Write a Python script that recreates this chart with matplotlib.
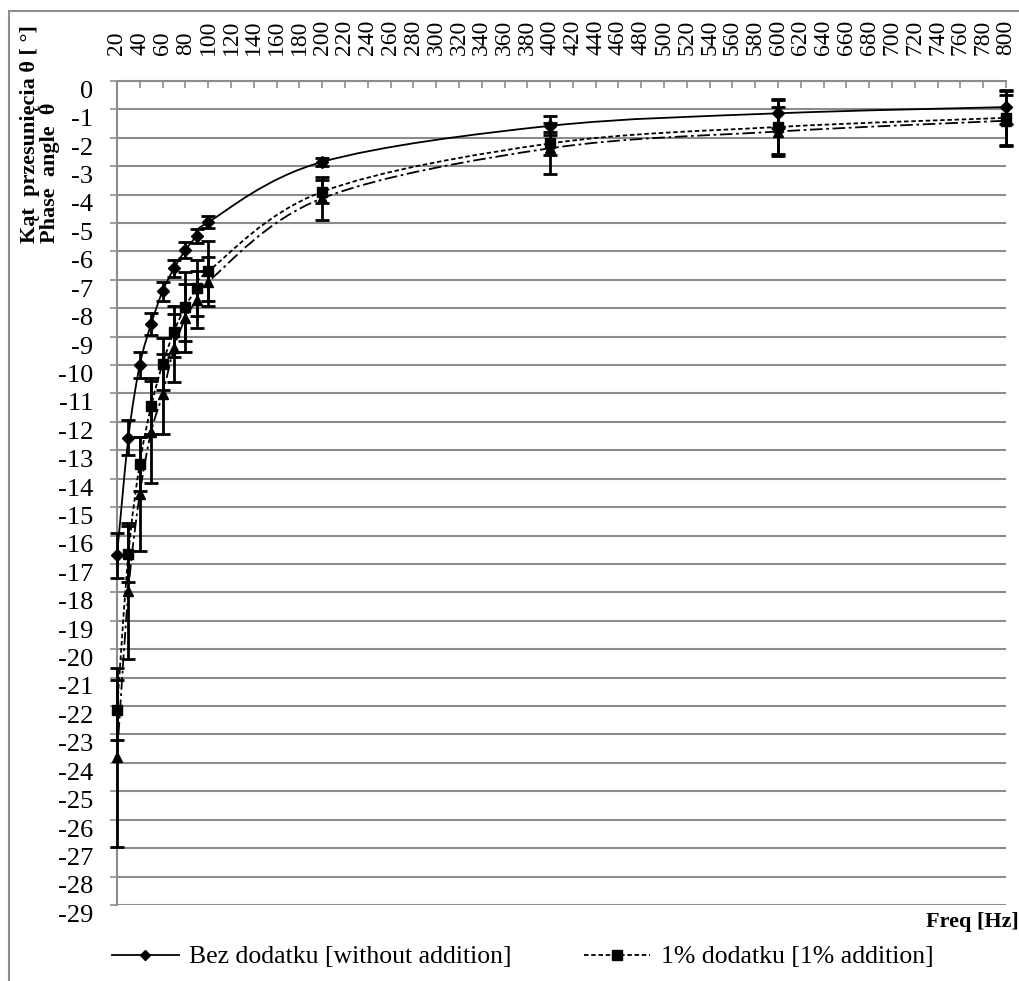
import matplotlib
matplotlib.use("Agg")
from matplotlib import pyplot as plt
from matplotlib.path import Path
from matplotlib.patches import PathPatch, Rectangle
from matplotlib.lines import Line2D
from matplotlib.transforms import ScaledTranslation

freq = [20, 30, 40, 50, 60, 70, 80, 90, 100, 200, 400, 600, 800]

bez = [-16.7, -12.55, -10.0, -8.55, -7.4, -6.6, -5.95, -5.45, -4.97, -2.85, -1.58, -1.14, -0.92]
bez_err = [0.8, 0.6, 0.45, 0.4, 0.33, 0.3, 0.27, 0.25, 0.22, 0.15, 0.33, 0.5, 0.6]

d1 = [-22.15, -16.65, -13.47, -11.44, -9.96, -8.82, -7.94, -7.29, -6.7, -3.9, -2.2, -1.62, -1.3]
d1_err = [1.05, 1.0, 0.95, 1.0, 0.9, 0.9, 1.2, 1.0, 1.05, 0.4, 0.4, 0.95, 0.95]

d2 = [-23.8, -17.95, -14.53, -12.35, -11.02, -9.4, -8.35, -7.7, -7.06, -4.13, -2.37, -1.78, -1.4]
d2_err = [3.15, 2.4, 2.0, 1.8, 1.4, 1.2, 1.2, 1.0, 0.85, 0.75, 0.9, 0.85, 0.9]

labels = ["Bez dodatku [without addition]", "1% dodatku [1% addition]"]

plt.rcParams['font.family'] = ['Liberation Serif', 'DejaVu Serif']
grey = '#8c8c8c'


def smooth_path(xs, ys):
	# excel-like smoothed line: catmull-rom segments as cubic beziers
	pts = list(zip(xs, ys))
	verts = [pts[0]]
	codes = [Path.MOVETO]
	n = len(pts)
	for i in range(n - 1):
		p0 = pts[i - 1] if i > 0 else pts[i]
		p1 = pts[i]
		p2 = pts[i + 1]
		p3 = pts[i + 2] if i + 2 < n else pts[i + 1]
		c1 = (p1[0] + (p2[0] - p0[0]) / 6, p1[1] + (p2[1] - p0[1]) / 6)
		c2 = (p2[0] - (p3[0] - p1[0]) / 6, p2[1] - (p3[1] - p1[1]) / 6)
		verts += [c1, c2, p2]
		codes += [Path.CURVE4] * 3
	return Path(verts, codes)


fig = plt.figure(figsize=(10.2, 9.81), dpi=100)
ax = fig.add_axes([0.1147, 0.0775, 0.8716, 0.84])

series = [
	(bez, bez_err, 'D', 6, '-'),
	(d1, d1_err, 's', 7, (0, (2.5, 1.5))),
	(d2, d2_err, '^', 7, (0, (7, 2, 1.5, 2))),
]
for ys, err, mk, ms, ls in series:
	ax.add_patch(PathPatch(smooth_path(freq, ys), fill=False, edgecolor='black',
		linewidth=1.3, linestyle=ls, zorder=3))
	ax.errorbar(freq, ys, yerr=err, fmt=mk, color='black', markersize=ms,
		elinewidth=2, capsize=5, capthick=2, zorder=4, clip_on=False)

ax.set_xlim(20, 800)
ax.set_ylim(-29, 0)
ax.set_xticks(range(20, 801, 20))
ax.set_yticks(range(-29, 1))
ax.set_yticklabels([str(v) for v in range(-29, 1)])

ax.xaxis.tick_top()
ax.tick_params(axis='x', direction='in', length=5, color=grey, width=1.2,
	labelrotation=90, labelsize=17, pad=19)
ax.tick_params(axis='y', direction='out', length=5, color=grey, width=1.2,
	labelsize=19, pad=12)
# excel puts the value labels a little below their gridline
shift = ScaledTranslation(0, -6 / 72, fig.dpi_scale_trans)
for lbl in ax.get_yticklabels():
	lbl.set_transform(lbl.get_transform() + shift)

ax.yaxis.grid(True, color=grey, linewidth=1.5)
for side in ['top', 'left']:
	ax.spines[side].set_color(grey)
	ax.spines[side].set_linewidth(1.5)
ax.spines['right'].set_visible(False)
ax.spines['bottom'].set_visible(False)

fig.text(40 / 1020, 1 - 243 / 981, "Kąt  przesunięcia θ [ °]\nPhase  angle  θ", rotation=90,
	ha='center', va='bottom', multialignment='left', fontsize=16,
	fontweight='bold', linespacing=1.0)
fig.text(1019 / 1020, 1 - 922 / 981, "Freq [Hz]", ha='right', va='center', fontsize=16,
	fontweight='bold')

handles = [
	Line2D([], [], color='black', marker='D', markersize=5, linestyle='-', linewidth=1.3),
	Line2D([], [], color='black', marker='s', markersize=7, linestyle=(0, (2.5, 1.5)), linewidth=1.3),
]
fig.legend(handles, labels, loc='center left', bbox_to_anchor=(112 / 1020, 1 - 957 / 981),
	ncol=2, frameon=False, fontsize=18.5, handlelength=2.6, handletextpad=0.4,
	columnspacing=2.8, numpoints=1, borderpad=0, borderaxespad=0)

fig.patches.append(Rectangle((9 / 1020, -0.1), 2, 1.1 - 11 / 981, transform=fig.transFigure,
	fill=False, edgecolor=grey, linewidth=1.5))

fig.savefig("out.png", dpi=100)
